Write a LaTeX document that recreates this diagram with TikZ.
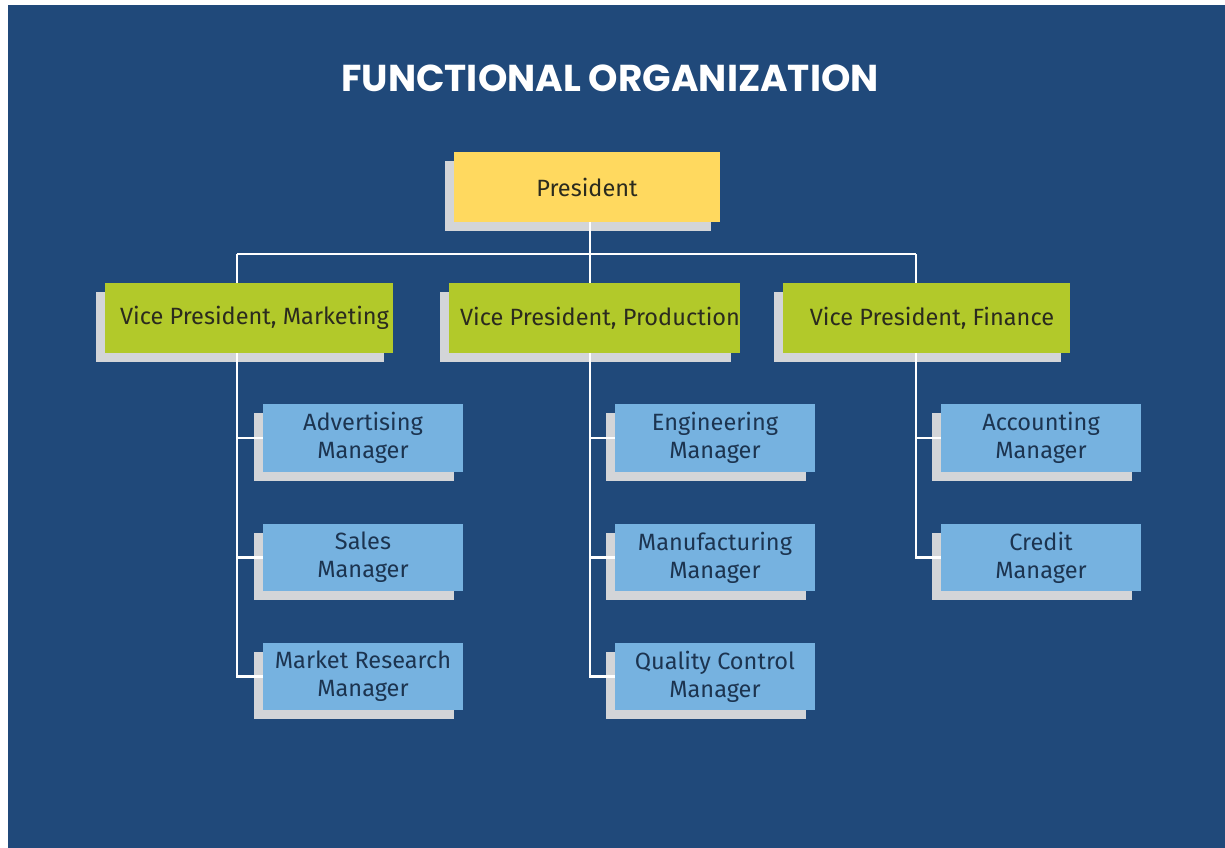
\documentclass[tikz,border=0pt]{standalone}
\usepackage{fontspec}
\setmainfont{Fira Sans}
\newfontfamily\titlefont{Poppins}
\usetikzlibrary{shadows}

\definecolor{bgblue}{HTML}{20497A}
\definecolor{presyellow}{HTML}{FFD95F}
\definecolor{vpgreen}{HTML}{B2C92A}
\definecolor{mgrblue}{HTML}{76B2E0}
\definecolor{shadowgray}{HTML}{D3D5D8}
\definecolor{darktext}{HTML}{2B2B1E}
\definecolor{navytext}{HTML}{1C3450}

\tikzset{
  box/.style={rectangle, inner sep=0pt, align=center,
    font=\fontsize{13.4}{15.9}\selectfont,
    general shadow={fill=shadowgray, shadow xshift=-0.18cm, shadow yshift=-0.18cm}},
  presbox/.style={box, fill=presyellow, text=darktext,
    minimum width=5.32cm, minimum height=1.4cm},
  vpbox/.style={box, fill=vpgreen, text=darktext,
    minimum width=5.76cm, minimum height=1.4cm,
    execute at begin node=\hspace*{0.22cm}},
  mgrbox/.style={box, fill=mgrblue, text=navytext,
    minimum width=4cm, minimum height=1.36cm},
  link/.style={draw=white, line width=1.2pt}
}

\begin{document}
\begin{tikzpicture}[x=0.02cm, y=-0.02cm]
    \useasboundingbox (0,0) rectangle (1225,848);
    \fill[white] (0,0) rectangle (1225,848);
    \fill[bgblue] (8,5) rectangle (1225,848);

    \node[text=white, font=\titlefont\bfseries\fontsize{21.3}{25}\selectfont] at (610,78) (title) {FUNCTIONAL ORGANIZATION};

    \node[presbox] at (587,187) (pres) {President};

    \node[vpbox] at (249,318) (vpm) {Vice President, Marketing};
    \node[vpbox] at (594.5,318) (vpp) {Vice President, Production};
    \node[vpbox] at (926.5,318) (vpf) {Vice President, Finance};

    \node[mgrbox] at (363,438) (adv) {Advertising\\Manager};
    \node[mgrbox] at (363,557.5) (sales) {Sales\\Manager};
    \node[mgrbox] at (363,676.5) (mkt) {Market Research\\Manager};

    \node[mgrbox] at (715,438) (eng) {Engineering\\Manager};
    \node[mgrbox] at (715,557.5) (manu) {Manufacturing\\Manager};
    \node[mgrbox] at (715,676.5) (qual) {Quality Control\\Manager};

    \node[mgrbox] at (1041,438) (acc) {Accounting\\Manager};
    \node[mgrbox] at (1041,557.5) (cred) {Credit\\Manager};

    % trunk points
    \coordinate (bus) at (590,254);
    \coordinate (busM) at (237,254);
    \coordinate (busF) at (916,254);

    \draw[link] (pres.south -| bus) -- (bus);
    \draw[link] (busM) -- (busF);
    \draw[link] (busM) -- (vpm.north -| busM);
    \draw[link] (bus) -- (vpp.north -| bus);
    \draw[link] (busF) -- (vpf.north -| busF);

    \draw[link] (vpm.south -| busM) |- (adv.west);
    \draw[link] (vpm.south -| busM) |- (sales.west);
    \draw[link] (vpm.south -| busM) |- (mkt.west);

    \draw[link] (vpp.south -| bus) |- (eng.west);
    \draw[link] (vpp.south -| bus) |- (manu.west);
    \draw[link] (vpp.south -| bus) |- (qual.west);

    \draw[link] (vpf.south -| busF) |- (acc.west);
    \draw[link] (vpf.south -| busF) |- (cred.west);
\end{tikzpicture}
\end{document}
